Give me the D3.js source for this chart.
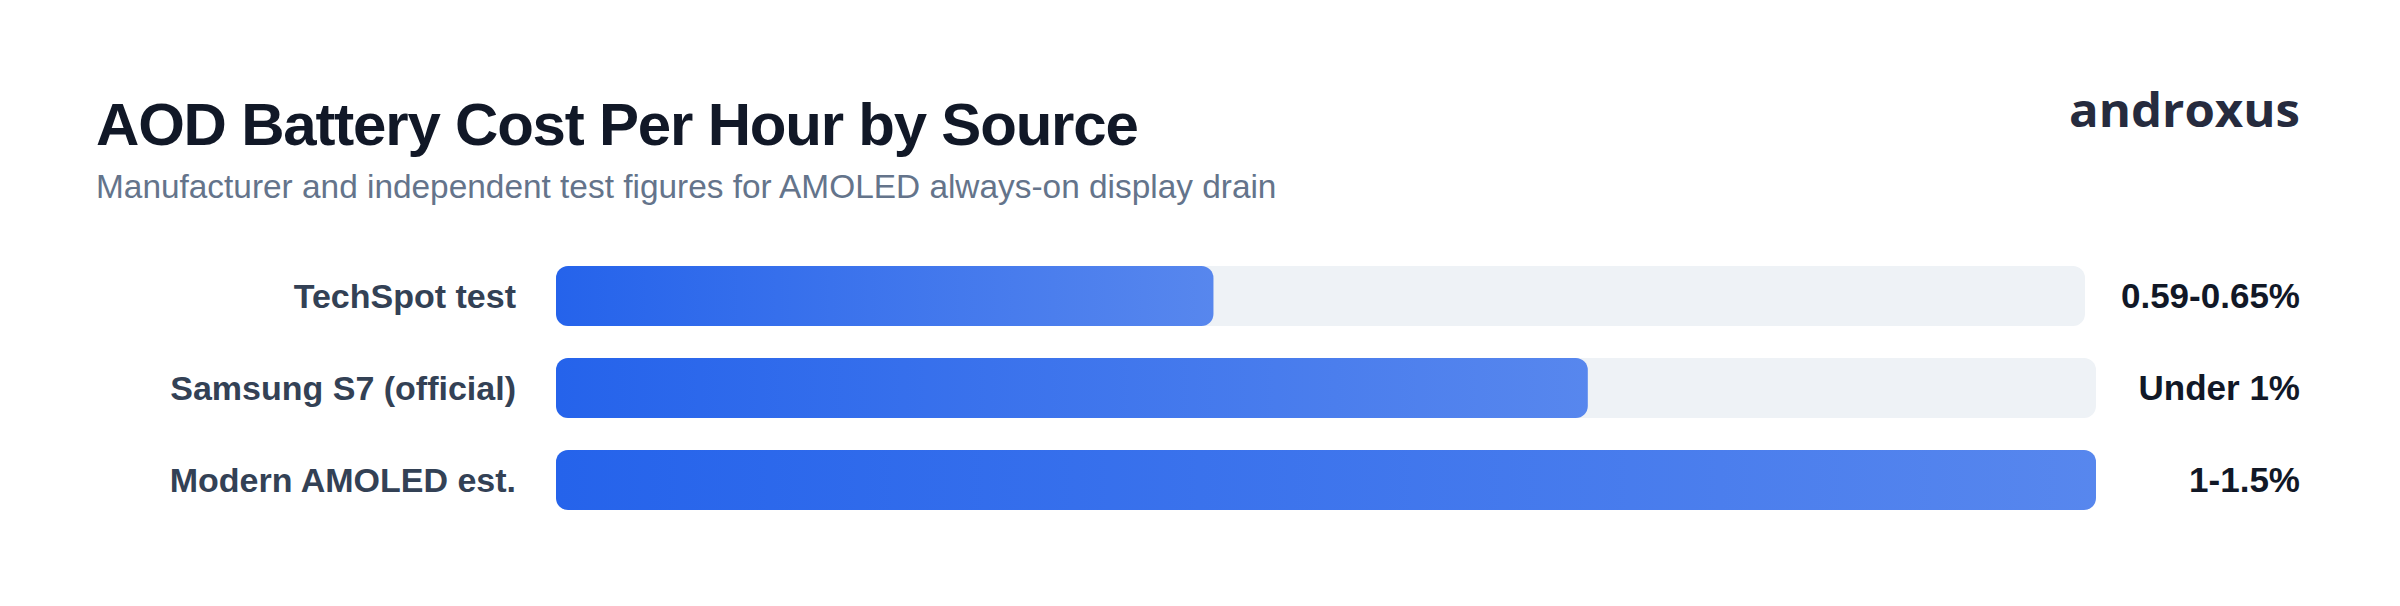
<!DOCTYPE html>
<html>
<head>
<meta charset="utf-8">
<script src="https://cdn.jsdelivr.net/npm/d3@7"></script>
<style>
  html, body { margin: 0; padding: 0; background: #ffffff; }
  svg { display: block; }
</style>
</head>
<body>
<svg id="chart" width="2400" height="606"></svg>
<script>
// ---- data ----
const categories = ["TechSpot test", "Samsung S7 (official)", "Modern AMOLED est."];
const barPercent = [43, 67, 100];             // bar length as % of the track
const valueLabels = ["0.59-0.65%", "Under 1%", "1-1.5%"];
const scaleMax = 100;
const titleText = "AOD Battery Cost Per Hour by Source";
const subtitleText = "Manufacturer and independent test figures for AMOLED always-on display drain";
const brandText = "androxus";

// ---- layout ----
const W = 2400, H = 606;
const left = 96, right = 2300;
const labelRight = 516, trackLeft = 556;
const valueGap = 36, valueMinW = 168;

const svg = d3.select("#chart");
const font = "'Liberation Sans', Arial, Helvetica, sans-serif";

const defs = svg.append("defs");
const grad = defs.append("linearGradient").attr("id", "barGrad")
  .attr("x1", "0%").attr("x2", "100%").attr("y1", "0%").attr("y2", "0%");
grad.append("stop").attr("offset", "0%").attr("stop-color", "#2563eb").attr("stop-opacity", 1);
grad.append("stop").attr("offset", "100%").attr("stop-color", "#2563eb").attr("stop-opacity", 0.75);

// title
svg.append("text").attr("x", left).attr("y", 145)
  .attr("font-family", font).attr("font-weight", 700).attr("font-size", 60)
  .attr("letter-spacing", "-1.2px").attr("fill", "#111827").text(titleText);

svg.append("text").attr("x", left).attr("y", 198)
  .attr("font-family", font).attr("font-weight", 400).attr("font-size", 33.4)
  .attr("fill", "#64748b").text(subtitleText);

svg.append("text").attr("x", right).attr("y", 127).attr("text-anchor", "end")
  .attr("font-family", "'Open Sans', sans-serif").attr("font-weight", 700).attr("font-size", 46)
  .attr("textLength", 231).attr("lengthAdjust", "spacingAndGlyphs")
  .attr("fill", "#262b3e").text(brandText);

// rows
const y = d3.scaleBand().domain(categories).range([266, 510]).paddingInner(32 / 92).paddingOuter(0);

const rows = svg.append("g").selectAll("g.row").data(categories).join("g").attr("class", "row");

rows.append("text")
  .attr("x", labelRight).attr("y", d => y(d) + y.bandwidth() / 2)
  .attr("dy", "0.355em").attr("text-anchor", "end")
  .attr("font-family", font).attr("font-weight", 700).attr("font-size", 34)
  .attr("fill", "#334155").text(d => d);

rows.append("text")
  .attr("x", right).attr("y", d => y(d) + y.bandwidth() / 2)
  .attr("dy", "0.355em").attr("text-anchor", "end")
  .attr("font-family", font).attr("font-weight", 700).attr("font-size", 35)
  .attr("fill", "#111827").text((d, i) => valueLabels[i]);

rows.each(function (d, i) {
  const g = d3.select(this);
  const tw = g.select("text:nth-of-type(2)").node().getComputedTextLength();
  const trackRight = right - Math.max(tw, valueMinW) - valueGap;
  const x = d3.scaleLinear().domain([0, scaleMax]).range([trackLeft, trackRight]);
  g.insert("rect", "text")
    .attr("x", x(0)).attr("y", y(d)).attr("width", x(scaleMax) - x(0)).attr("height", y.bandwidth())
    .attr("rx", 12).attr("fill", "#eef2f6");
  g.insert("rect", "text")
    .attr("x", x(0)).attr("y", y(d)).attr("width", x(barPercent[i]) - x(0)).attr("height", y.bandwidth())
    .attr("rx", 12).attr("fill", "url(#barGrad)");
});
</script>
</body>
</html>
